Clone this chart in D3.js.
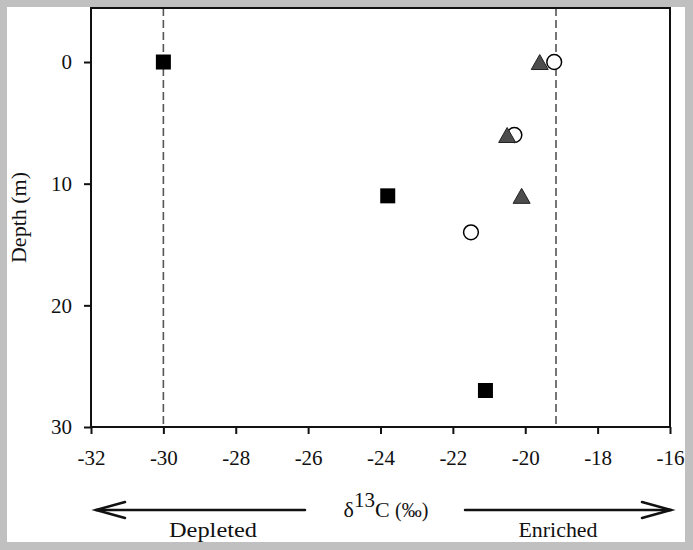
<!DOCTYPE html>
<html>
<head>
<meta charset="utf-8">
<script src="https://cdn.jsdelivr.net/npm/d3@7/dist/d3.min.js"></script>
<style>
  html, body { margin: 0; padding: 0; background: #c0c0c0; }
  svg { display: block; }
  text { font-family: "Liberation Serif", "DejaVu Serif", serif; fill: #111; }
</style>
</head>
<body>
<svg id="chart" width="693" height="550"></svg>
<script>
// ---- data ----
const squareX = [-30, -23.8, -21.1];
const squareDepth = [0, 11, 27];
const circleX = [-19.2, -20.3, -21.5];
const circleDepth = [0, 6, 14];
const triangleX = [-19.6, -20.5, -20.1];
const triangleDepth = [0, 6, 11];
const refLinesX = [-30, -19.15];
const xTicks = [-32, -30, -28, -26, -24, -22, -20, -18, -16];
const yTicks = [0, 10, 20, 30];

const svg = d3.select("#chart");
const m = { left: 91, right: 670, top: 8, bottom: 427 };

// white panel inside grey border
svg.append("rect").attr("x", 7).attr("y", 7).attr("width", 678).attr("height", 535).attr("fill", "#fff");

const x = d3.scaleLinear().domain([-32, -16]).range([m.left, m.right]);
const y = d3.scaleLinear().domain([-4.44, 30]).range([m.top, m.bottom]);

// reference dashed lines
svg.append("g").selectAll("line").data(refLinesX).join("line")
  .attr("x1", d => x(d)).attr("x2", d => x(d))
  .attr("y1", m.top).attr("y2", m.bottom)
  .attr("stroke", "#555").attr("stroke-width", 1.6)
  .attr("stroke-dasharray", "8,4");

// axes
const yAxis = svg.append("g").attr("transform", `translate(${m.left},0)`)
  .call(d3.axisLeft(y).tickValues(yTicks).tickSize(7).tickPadding(12).tickSizeOuter(0));
const xAxis = svg.append("g").attr("transform", `translate(0,${m.bottom})`)
  .call(d3.axisBottom(x).tickValues(xTicks).tickSize(7).tickPadding(16).tickSizeOuter(0)
    .tickFormat(d3.format("d")));
[yAxis, xAxis].forEach(g => {
  g.select(".domain").remove();
  g.selectAll(".tick line").attr("stroke", "#111").attr("stroke-width", 2);
  g.selectAll(".tick text").attr("font-size", 21).attr("font-family", "Liberation Serif").attr("fill", "#111");
});
xAxis.selectAll(".tick text").text(d => (d < 0 ? "-" + Math.abs(d) : d));

// frame
svg.append("rect").attr("x", m.left).attr("y", m.top)
  .attr("width", m.right - m.left).attr("height", m.bottom - m.top)
  .attr("fill", "none").attr("stroke", "#111").attr("stroke-width", 2);

// squares
const sq = 15;
svg.append("g").selectAll("rect").data(squareX.map((v, i) => [v, squareDepth[i]])).join("rect")
  .attr("x", d => x(d[0]) - sq / 2).attr("y", d => y(d[1]) - sq / 2)
  .attr("width", sq).attr("height", sq).attr("fill", "#000");

// circles
svg.append("g").selectAll("circle").data(circleX.map((v, i) => [v, circleDepth[i]])).join("circle")
  .attr("cx", d => x(d[0])).attr("cy", d => y(d[1])).attr("r", 7.4)
  .attr("fill", "#fff").attr("stroke", "#000").attr("stroke-width", 1.5);

// triangles
const tw = 17, th = 15;
svg.append("g").selectAll("path").data(triangleX.map((v, i) => [v, triangleDepth[i]])).join("path")
  .attr("d", d => {
    const cx = x(d[0]), cy = y(d[1]);
    return `M${cx},${cy - th / 2}L${cx + tw / 2},${cy + th / 2}L${cx - tw / 2},${cy + th / 2}Z`;
  })
  .attr("fill", "#4d4d4d").attr("stroke", "#222").attr("stroke-width", 1);

// y axis title
svg.append("text")
  .attr("transform", `translate(26,${(m.top + m.bottom) / 2}) rotate(-90)`)
  .attr("text-anchor", "middle").attr("font-size", 22).text("Depth (m)");

// x axis title with arrows
const ay = 510;
const arrows = svg.append("g").attr("stroke", "#111").attr("stroke-width", 2.5).attr("fill", "none")
  .attr("stroke-linecap", "round");
arrows.append("line").attr("x1", 96).attr("x2", 305).attr("y1", ay).attr("y2", ay);
arrows.append("path").attr("d", `M125,${ay - 8}L96,${ay}L125,${ay + 8}`);
arrows.append("line").attr("x1", 465).attr("x2", 671).attr("y1", ay).attr("y2", ay);
arrows.append("path").attr("d", `M642,${ay - 8}L671,${ay}L642,${ay + 8}`);

const title = svg.append("text").attr("x", 386).attr("y", 517).attr("text-anchor", "middle").attr("font-size", 22);
title.append("tspan").text("δ");
title.append("tspan").attr("dy", -10).attr("font-size", 21).text("13");
title.append("tspan").attr("dy", 10).text("C ");
title.append("tspan").attr("font-size", 20).text("(‰)");

svg.append("text").attr("x", 213).attr("y", 537).attr("text-anchor", "middle").attr("font-size", 22)
  .attr("textLength", 88).attr("lengthAdjust", "spacingAndGlyphs").text("Depleted");
svg.append("text").attr("x", 558).attr("y", 537).attr("text-anchor", "middle").attr("font-size", 22)
  .attr("textLength", 79).attr("lengthAdjust", "spacingAndGlyphs").text("Enriched");
</script>
</body>
</html>
